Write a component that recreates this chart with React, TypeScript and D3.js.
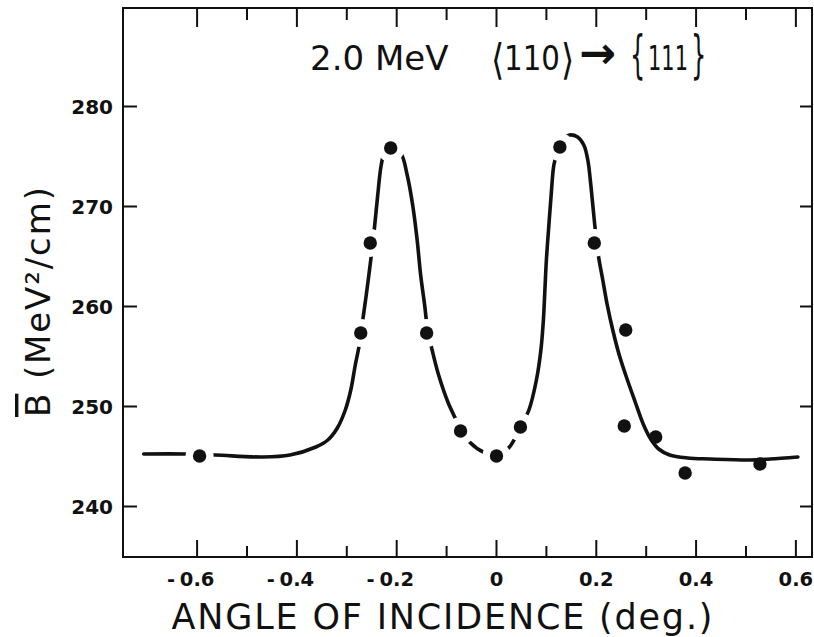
import React from "react";
import * as d3 from "d3";

// Measured points: angle of incidence (deg.) and mean B (MeV^2/cm)
const pointAngle = [-0.595, -0.272, -0.253, -0.212, -0.14, -0.072, 0.0, 0.048, 0.127, 0.196, 0.259, 0.256, 0.319, 0.378, 0.528];
const pointB = [245.05, 257.35, 266.35, 275.85, 257.35, 247.55, 245.05, 247.95, 275.95, 266.35, 257.65, 248.05, 246.95, 243.35, 244.25];

// Hand-drawn fitted curve
const curveAngle = [
  -0.707, -0.623, -0.563, -0.468, -0.414, -0.362, -0.338, -0.319, -0.303, -0.292, -0.283, -0.275, -0.268, -0.261,
  -0.252, -0.245, -0.238, -0.231, -0.224, -0.212, -0.192, -0.179, -0.168, -0.159, -0.152, -0.144, -0.138, -0.129,
  -0.116, -0.095, -0.072, -0.054, -0.023, 0.0, 0.026, 0.048, 0.065, 0.08, 0.089, 0.094, 0.097, 0.1, 0.105, 0.11,
  0.115, 0.123, 0.134, 0.146, 0.1625, 0.175, 0.183, 0.188, 0.193, 0.198, 0.204, 0.213, 0.222, 0.233, 0.246, 0.261,
  0.278, 0.294, 0.309, 0.325, 0.347, 0.383, 0.428, 0.508, 0.548, 0.604,
];
const curveB = [
  245.25, 245.25, 245.15, 244.95, 245.15, 245.95, 246.65, 247.85, 249.65, 251.65, 254.15, 256.15, 258.65, 261.15,
  264.65, 267.65, 271.15, 274.15, 275.45, 275.95, 275.35, 273.15, 270.15, 266.65, 263.15, 260.15, 257.65, 255.65,
  253.15, 250.15, 247.85, 246.45, 245.35, 245.05, 245.95, 247.95, 249.65, 252.65, 255.65, 258.65, 261.65, 264.65,
  268.15, 271.45, 274.15, 275.65, 276.75, 277.15, 276.95, 276.15, 274.65, 272.65, 270.15, 267.65, 265.15, 262.65,
  260.15, 257.65, 255.15, 252.85, 250.45, 248.25, 246.75, 245.75, 245.15, 244.85, 244.75, 244.65, 244.75, 244.95,
];

const xTickValues = [-0.6, -0.5, -0.4, -0.3, -0.2, -0.1, 0, 0.1, 0.2, 0.3, 0.4, 0.5, 0.6];
const xMajorLabels = ["- 0.6", "- 0.4", "- 0.2", "0", "0.2", "0.4", "0.6"];
const yTickValues = [240, 250, 260, 270, 280];

const W = 814;
const H = 637;
const L = 123;
const R = 812;
const T = 8;
const B = 557;
const FONT = "'DejaVu Sans', sans-serif";

export default function App() {
  const x = d3.scaleLinear().domain([-0.7485, 0.6323]).range([L, R]);
  const y = d3.scaleLinear().domain([234.95, 289.85]).range([B, T]);

  const curvePts: [number, number][] = curveAngle.map((a, i) => [x(a), y(curveB[i])]);
  const line = d3.line().curve(d3.curveCatmullRom.alpha(0.5));
  const curvePath = line(curvePts) || "";

  const distToCurve = (px: number, py: number) => {
    let best = Infinity;
    for (let i = 0; i < curvePts.length - 1; i++) {
      const [x1, y1] = curvePts[i];
      const [x2, y2] = curvePts[i + 1];
      const dx = x2 - x1, dy = y2 - y1;
      const len2 = dx * dx + dy * dy;
      let t = len2 ? ((px - x1) * dx + (py - y1) * dy) / len2 : 0;
      t = Math.max(0, Math.min(1, t));
      const d = Math.hypot(px - (x1 + t * dx), py - (y1 + t * dy));
      if (d < best) best = d;
    }
    return best;
  };

  const points = pointAngle.map((a, i) => {
    const px = x(a);
    const py = y(pointB[i]);
    return { px, py, onCurve: distToCurve(px, py) < 4.2 };
  });

  const majors = xTickValues.filter((v) => Math.abs(Math.round(v * 10)) % 2 === 0);

  return (
    <svg
      width={W}
      height={H}
      style={{ position: "absolute", left: 0, top: 0, background: "#fff" }}
      fontFamily={FONT}
    >
      <rect x={0} y={0} width={W} height={H} fill="#fff" />
      {/* frame */}
      <rect x={L} y={T} width={R - L} height={B - T} fill="none" stroke="#111" strokeWidth={2} />

      {/* x ticks bottom and top */}
      {xTickValues.map((v, i) => {
        const major = Math.abs(Math.round(v * 10)) % 2 === 0;
        return (
          <g key={"xt" + i} stroke="#111" strokeWidth={2}>
            <line x1={x(v)} x2={x(v)} y1={B} y2={B - (major ? 17 : 11)} />
            <line x1={x(v)} x2={x(v)} y1={T} y2={T + (major ? 19 : 12)} />
          </g>
        );
      })}
      {/* y ticks left and right */}
      {yTickValues.map((v) => (
        <g key={"yt" + v} stroke="#111" strokeWidth={2}>
          <line x1={L} x2={L + 14} y1={y(v)} y2={y(v)} />
          <line x1={R} x2={R - 12} y1={y(v)} y2={y(v)} />
        </g>
      ))}

      {/* x tick labels */}
      {majors.map((v, i) => {
        const lab = xMajorLabels[i];
        const neg = lab.startsWith("-");
        const num = neg ? lab.replace("- ", "") : lab;
        return (
          <g key={"xl" + i} fontSize={19.5} fontWeight="bold" fill="#111">
            <text x={x(v)} y={586} textAnchor="middle">
              {num}
            </text>
            {neg && (
              <text x={x(v) - 22} y={586} textAnchor="end">
                -
              </text>
            )}
          </g>
        );
      })}
      {/* y tick labels */}
      {yTickValues.map((v) => (
        <text key={"yl" + v} x={L - 10} y={y(v) + 7} textAnchor="end" fontSize={20} fontWeight="bold" fill="#111">
          {v}
        </text>
      ))}

      {/* curve */}
      <path d={curvePath} fill="none" stroke="#111" strokeWidth={3.6} strokeLinecap="round" />
      {/* gaps around points on the curve */}
      {points.filter((p) => p.onCurve).map((p, i) => (
        <circle key={"h" + i} cx={p.px} cy={p.py} r={14} fill="#fff" />
      ))}
      {points.map((p, i) => (
        <circle key={"p" + i} cx={p.px} cy={p.py} r={6.7} fill="#111" />
      ))}

      {/* title */}
      <text x={310} y={70} fontSize={34} fill="#111">2.0 MeV</text>
      <text transform="translate(491,74) scale(1,1.25)" fontSize={34} fill="#111">⟨</text>
      <text x={504} y={70} fontSize={34} fill="#111" textLength={56} lengthAdjust="spacingAndGlyphs">110</text>
      <text transform="translate(561,74) scale(1,1.25)" fontSize={34} fill="#111">⟩</text>
      <text x={579} y={68} fontSize={44} fontWeight="bold" fill="#111">→</text>
      <text transform="translate(630,72) scale(0.75,1.6)" fontSize={32} fill="#111">{"{"}</text>
      <text x={648} y={70} fontSize={34} fill="#111" textLength={40} lengthAdjust="spacingAndGlyphs">111</text>
      <text transform="translate(691,72) scale(0.75,1.6)" fontSize={32} fill="#111">{"}"}</text>

      {/* x axis title */}
      <text x={442} y={629} textAnchor="middle" fontSize={35} fill="#111" textLength={541} lengthAdjust="spacing">
        ANGLE OF INCIDENCE (deg.)
      </text>

      {/* y axis title */}
      <text transform="translate(50,302) rotate(-90)" textAnchor="middle" fontSize={34} fill="#111" textLength={230} lengthAdjust="spacing">
        <tspan textDecoration="overline">B</tspan> (MeV²/cm)
      </text>
    </svg>
  );
}
